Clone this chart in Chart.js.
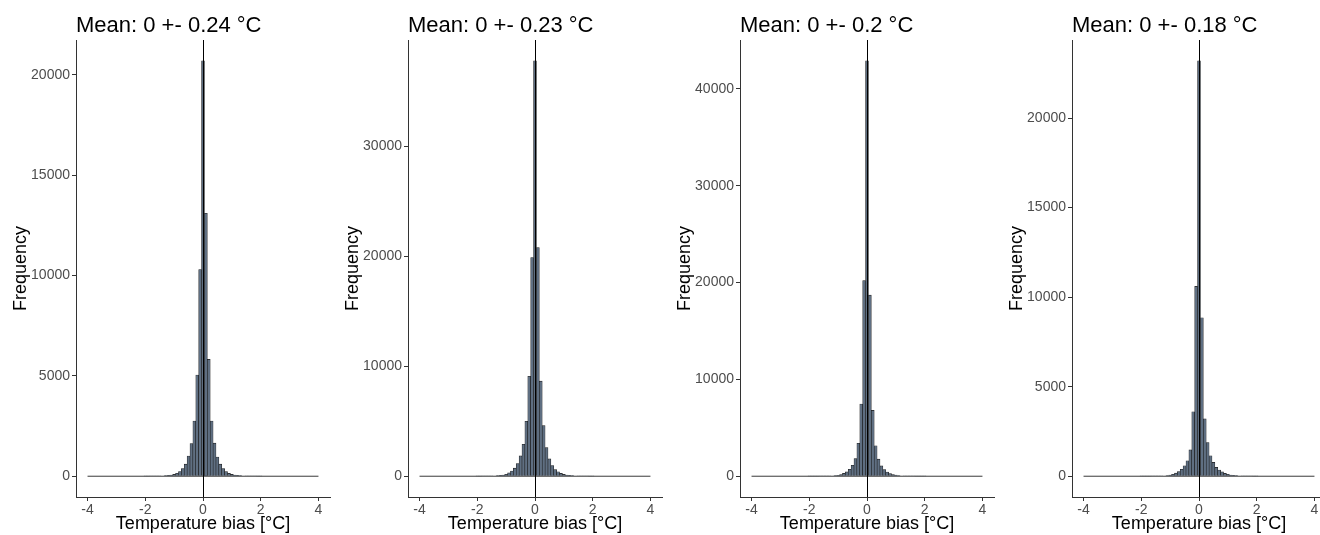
<!DOCTYPE html>
<html>
<head>
<meta charset="utf-8">
<title>Temperature bias histograms</title>
<script src="https://cdn.jsdelivr.net/npm/chart.js@4.4.1/dist/chart.umd.min.js"></script>
<style>
  html, body { margin: 0; padding: 0; background: #fff; overflow: hidden; }
  #panels { display: flex; width: 1328px; height: 535px; }
  #panels canvas { display: block; }
</style>
</head>
<body>
<div id="panels">
  <canvas id="hist1" width="332" height="535"></canvas>
  <canvas id="hist2" width="332" height="535"></canvas>
  <canvas id="hist3" width="332" height="535"></canvas>
  <canvas id="hist4" width="332" height="535"></canvas>
</div>
<script>
"use strict";

// histogram bins: centres from binStart in steps of binWidth, zero outside the listed bins
const binStart = -2.0;
const binWidth = 0.1;
const histRange = [-4, 4];
const meanBias = [0, 0, 0, 0];
const titles = ["Mean: 0 +- 0.24 °C", "Mean: 0 +- 0.23 °C", "Mean: 0 +- 0.2 °C", "Mean: 0 +- 0.18 °C"];

const counts1 = [3, 4, 6, 8, 11, 15, 20, 28, 40, 55, 90, 150, 235, 385, 600, 1010, 1630, 2750, 5040, 10300,
  20700, 13100, 5820, 2750, 1650, 960, 600, 380, 230, 140, 90, 60, 42, 30, 21, 15, 11, 8, 6, 4, 3];
const counts2 = [5, 7, 10, 14, 19, 26, 36, 50, 75, 110, 180, 300, 470, 730, 1150, 1850, 2900, 5000, 9100, 19900,
  37800, 20800, 8650, 4600, 2600, 1580, 980, 600, 400, 260, 170, 110, 75, 50, 36, 26, 19, 14, 10, 7, 5];
const counts3 = [3, 4, 6, 8, 11, 15, 20, 28, 40, 60, 95, 160, 290, 450, 720, 1130, 1830, 3400, 7450, 20200,
  42900, 18700, 6800, 3150, 1760, 1070, 690, 440, 280, 170, 110, 70, 45, 30, 21, 15, 11, 8, 6, 4, 3];
const counts4 = [2, 3, 4, 5, 7, 10, 13, 18, 25, 40, 60, 110, 170, 260, 390, 580, 860, 1470, 3600, 10600,
  23200, 8850, 3200, 1880, 1140, 770, 490, 350, 240, 160, 105, 70, 48, 33, 23, 16, 11, 8, 6, 4, 3];

const xTicks = [-4, -2, 0, 2, 4];
const yTicks1 = [0, 5000, 10000, 15000, 20000];
const yTicks2 = [0, 10000, 20000, 30000];
const yTicks3 = [0, 10000, 20000, 30000, 40000];
const yTicks4 = [0, 5000, 10000, 15000, 20000];

Chart.defaults.font.family = "'Liberation Sans', Arial, sans-serif";

// vertical mean line and left-aligned panel title
const panelDecor = {
  id: "panelDecor",
  afterDatasetsDraw(chart, args, opts) {
    const { ctx, chartArea, scales } = chart;
    const x = Math.round(scales.x.getPixelForValue(opts.vline)) + 0.5;
    ctx.save();
    ctx.strokeStyle = "#000";
    ctx.lineWidth = 1;
    ctx.beginPath();
    ctx.moveTo(x, chartArea.top);
    ctx.lineTo(x, chartArea.bottom);
    ctx.stroke();
    ctx.restore();
  },
  afterDraw(chart, args, opts) {
    const { ctx, chartArea } = chart;
    ctx.save();
    ctx.fillStyle = "#000";
    ctx.font = "22px 'Liberation Sans', Arial, sans-serif";
    ctx.textAlign = "left";
    ctx.textBaseline = "alphabetic";
    ctx.fillText(opts.title, chartArea.left, 32);
    ctx.restore();
  },
};

function makePanel(canvas, counts, yTicks, title, mean) {
  const bars = counts.map((c, i) => ({ x: Math.round((binStart + i * binWidth) * 10) / 10, y: c }));
  const peak = Math.max(...counts);
  const span = histRange[1] - histRange[0];
  return new Chart(canvas, {
    type: "bar",
    data: {
      datasets: [
        {
          type: "line",
          data: histRange.map((x) => ({ x: x, y: 0 })),
          borderColor: "#3a3a3a",
          borderWidth: 1,
          pointRadius: 0,
          order: 0,
        },
        {
          data: bars,
          backgroundColor: "#5f6f82",
          borderColor: "#1c1c1c",
          borderWidth: { left: 0.6, right: 0.6, top: 0.6, bottom: 0 },
          borderSkipped: "start",
          barPercentage: 1,
          categoryPercentage: 1,
          order: 1,
        },
      ],
    },
    options: {
      responsive: false,
      animation: false,
      layout: { padding: { top: 40, right: 2, bottom: 0, left: 0 } },
      plugins: {
        legend: { display: false },
        tooltip: { enabled: false },
        panelDecor: { title: title, vline: mean },
      },
      scales: {
        x: {
          type: "linear",
          offset: false,
          min: histRange[0] - 0.05 * span,
          max: histRange[1] + 0.05 * span,
          afterBuildTicks: (s) => { s.ticks = xTicks.map((v) => ({ value: v })); },
          afterFit: (s) => { s.height = 38; },
          grid: { display: true, offset: false, drawOnChartArea: false, tickLength: 4, tickColor: "#333" },
          border: { display: true, color: "#333", width: 1 },
          ticks: { padding: 1, color: "#4d4d4d", font: { size: 14 }, maxRotation: 0, callback: (v) => String(v) },
          title: {
            display: true,
            text: "Temperature bias [°C]",
            color: "#000",
            font: { size: 18, lineHeight: 1.2 },
            padding: { top: 0, bottom: 0 },
          },
        },
        y: {
          min: -0.05 * peak,
          max: 1.05 * peak,
          afterBuildTicks: (s) => { s.ticks = yTicks.map((v) => ({ value: v })); },
          afterFit: (s) => { s.width = 76; },
          grid: { display: true, drawOnChartArea: false, tickLength: 4, tickColor: "#333" },
          border: { display: true, color: "#333", width: 1 },
          ticks: { padding: 2, color: "#4d4d4d", font: { size: 14 }, callback: (v) => String(v) },
          title: {
            display: true,
            text: "Frequency",
            color: "#000",
            font: { size: 18, lineHeight: 1.2 },
            padding: { top: 10, bottom: 0 },
          },
        },
      },
    },
    plugins: [panelDecor],
  });
}

makePanel(document.querySelector("#hist1"), counts1, yTicks1, titles[0], meanBias[0]);
makePanel(document.querySelector("#hist2"), counts2, yTicks2, titles[1], meanBias[1]);
makePanel(document.querySelector("#hist3"), counts3, yTicks3, titles[2], meanBias[2]);
makePanel(document.querySelector("#hist4"), counts4, yTicks4, titles[3], meanBias[3]);
</script>
</body>
</html>
